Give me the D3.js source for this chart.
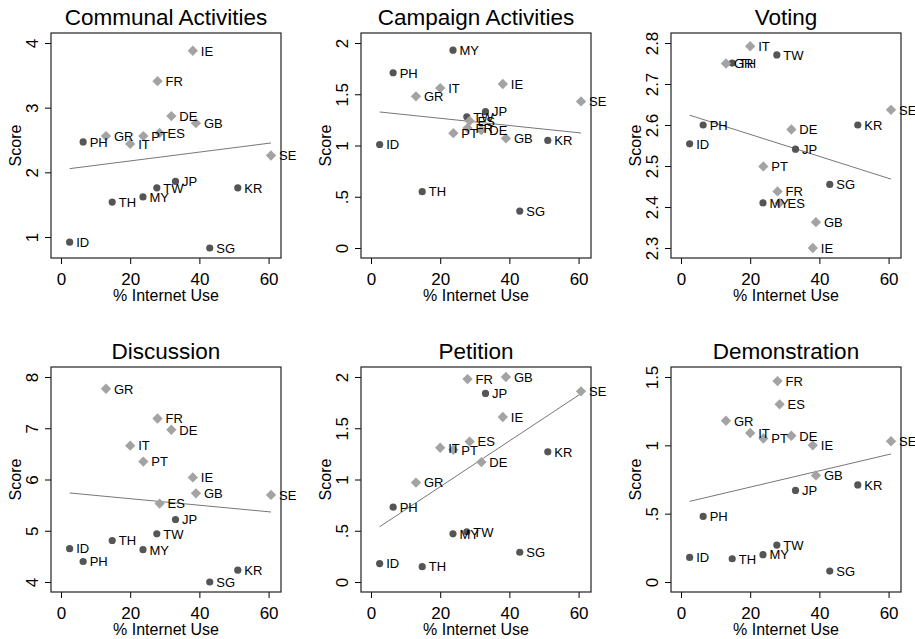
<!DOCTYPE html>
<html>
<head>
<meta charset="utf-8">
<script src="https://cdn.jsdelivr.net/npm/d3@7"></script>
<style>
    body { margin: 0; background: #fff; }
    text { font-family: "Liberation Sans", Arial, Helvetica, sans-serif; fill: #000; }
</style>
</head>
<body>
<div id="chart"></div>
<script>
// Countries: first eight are Asian (circles), the rest European (diamonds)
const countries = ["ID", "PH", "TH", "MY", "TW", "JP", "SG", "KR",
                   "GR", "IT", "PT", "ES", "FR", "DE", "IE", "GB", "SE"];
const groups = ["asia", "asia", "asia", "asia", "asia", "asia", "asia", "asia",
                "europe", "europe", "europe", "europe", "europe", "europe", "europe", "europe", "europe"];
const internetUse = [2.5, 6.4, 14.8, 23.7, 27.7, 33.1, 43.0, 51.1,
                     13.0, 20.0, 23.8, 28.5, 27.9, 31.9, 38.1, 39.0, 60.7];

// Scores per panel, same country order
const communal = [0.92, 2.47, 1.54, 1.62, 1.76, 1.86, 0.83, 1.76,
                  2.56, 2.44, 2.56, 2.61, 3.41, 2.87, 3.88, 2.76, 2.26];
const campaign = [1.01, 1.71, 0.55, 1.93, 1.28, 1.33, 0.36, 1.05,
                  1.48, 1.56, 1.12, 1.24, 1.17, 1.15, 1.60, 1.07, 1.43];
const voting = [2.554, 2.600, 2.751, 2.410, 2.771, 2.541, 2.455, 2.600,
                2.750, 2.792, 2.499, 2.410, 2.438, 2.589, 2.300, 2.363, 2.637];
const discussion = [4.65, 4.40, 4.81, 4.63, 4.94, 5.22, 4.00, 4.23,
                    7.77, 6.66, 6.35, 5.53, 7.19, 6.97, 6.04, 5.73, 5.70];
const petition = [0.18, 0.73, 0.15, 0.47, 0.49, 1.84, 0.29, 1.27,
                  0.97, 1.31, 1.29, 1.37, 1.98, 1.17, 1.61, 2.00, 1.86];
const demonstration = [0.18, 0.48, 0.17, 0.20, 0.27, 0.67, 0.08, 0.71,
                       1.18, 1.09, 1.05, 1.30, 1.47, 1.07, 1.00, 0.78, 1.03];

const panelTitles = ["Communal Activities", "Campaign Activities", "Voting",
                     "Discussion", "Petition", "Demonstration"];
const panelScores = [communal, campaign, voting, discussion, petition, demonstration];

// Fitted line values at the lowest and highest internet use
const fitStart = [2.057, 1.327, 2.624, 5.737, 0.539, 0.590];
const fitEnd = [2.454, 1.122, 2.468, 5.366, 1.838, 0.937];

// Axis ticks
const xTicks = [0, 20, 40, 60];
const yTicks = [[1, 2, 3, 4], [0, 0.5, 1, 1.5, 2], [2.3, 2.4, 2.5, 2.6, 2.7, 2.8],
                [4, 5, 6, 7, 8], [0, 0.5, 1, 1.5, 2], [0, 0.5, 1, 1.5]];
const yTickLabels = [["1", "2", "3", "4"], ["0", ".5", "1", "1.5", "2"],
                     ["2.3", "2.4", "2.5", "2.6", "2.7", "2.8"],
                     ["4", "5", "6", "7", "8"], ["0", ".5", "1", "1.5", "2"],
                     ["0", ".5", "1", "1.5"]];

const width = 915, height = 639;
const boxW = 230, boxH = 225, pad = 10;

const svg = d3.select("#chart")
    .append("svg")
    .attr("width", width)
    .attr("height", height);

const diamond = d3.symbol().type(d3.symbolDiamond2).size(68);

function drawPanel(i) {
    const col = i % 3, row = Math.floor(i / 3);
    const left = 51 + col * 310;
    const top = 33 + row * 334;
    const scores = panelScores[i];

    const g = svg.append("g")
        .attr("transform", `translate(${left},${top})`);

    // Scales padded inside the plot box
    const xExt = d3.extent(internetUse.concat(xTicks));
    const yExt = d3.extent(scores.concat(yTicks[i]));
    const x = d3.scaleLinear().domain(xExt).range([pad, boxW - pad]);
    const y = d3.scaleLinear().domain(yExt).range([boxH - pad, pad]);

    // Axes
    const yAxis = g.append("g")
        .call(d3.axisLeft(y)
            .tickValues(yTicks[i])
            .tickFormat((d, j) => yTickLabels[i][j])
            .tickSize(6)
            .tickSizeOuter(0));
    yAxis.select(".domain").remove();
    yAxis.selectAll("line").attr("stroke", "#000");
    yAxis.selectAll("text")
        .attr("transform", "rotate(-90)")
        .attr("x", 0)
        .attr("y", -13)
        .attr("dy", null)
        .attr("text-anchor", "middle")
        .style("font-size", "17px");

    const xAxis = g.append("g")
        .attr("transform", `translate(0,${boxH})`)
        .call(d3.axisBottom(x)
            .tickValues(xTicks)
            .tickSize(6)
            .tickSizeOuter(0));
    xAxis.select(".domain").remove();
    xAxis.selectAll("line").attr("stroke", "#000");
    xAxis.selectAll("text")
        .attr("y", 27)
        .attr("dy", null)
        .style("font-size", "17px");

    // Plot box
    g.append("rect")
        .attr("width", boxW)
        .attr("height", boxH)
        .attr("fill", "none")
        .attr("stroke", "#222")
        .attr("stroke-width", 1.2);

    // Title and axis titles
    g.append("text")
        .attr("x", boxW / 2)
        .attr("y", -8)
        .attr("text-anchor", "middle")
        .style("font-size", "22.5px")
        .text(panelTitles[i]);

    g.append("text")
        .attr("transform", "rotate(-90)")
        .attr("x", -boxH / 2)
        .attr("y", -30)
        .attr("text-anchor", "middle")
        .style("font-size", "16px")
        .text("Score");

    g.append("text")
        .attr("x", boxW / 2)
        .attr("y", boxH + 43)
        .attr("text-anchor", "middle")
        .style("font-size", "16px")
        .text("% Internet Use");

    // Fitted line
    const xLo = d3.min(internetUse), xHi = d3.max(internetUse);
    g.append("line")
        .attr("x1", x(xLo)).attr("y1", y(fitStart[i]))
        .attr("x2", x(xHi)).attr("y2", y(fitEnd[i]))
        .attr("stroke", "#777")
        .attr("stroke-width", 1);

    const pts = countries.map((c, j) => ({ c, grp: groups[j], x: internetUse[j], y: scores[j] }));

    // Markers
    g.selectAll(".dot")
        .data(pts.filter(d => d.grp === "asia"))
        .join("circle")
        .attr("cx", d => x(d.x))
        .attr("cy", d => y(d.y))
        .attr("r", 3.6)
        .attr("fill", "#555");

    g.selectAll(".dia")
        .data(pts.filter(d => d.grp === "europe"))
        .join("path")
        .attr("d", diamond)
        .attr("transform", d => `translate(${x(d.x)},${y(d.y)})`)
        .attr("fill", "#a3a3a3");

    // Country labels, to the right of each marker
    g.selectAll(".lab")
        .data(pts)
        .join("text")
        .attr("x", d => x(d.x) + (d.grp === "asia" ? 6.5 : 8))
        .attr("y", d => y(d.y) + 4.8)
        .style("font-size", "13px")
        .text(d => d.c);
}

for (let i = 0; i < 6; i++) drawPanel(i);
</script>
</body>
</html>
